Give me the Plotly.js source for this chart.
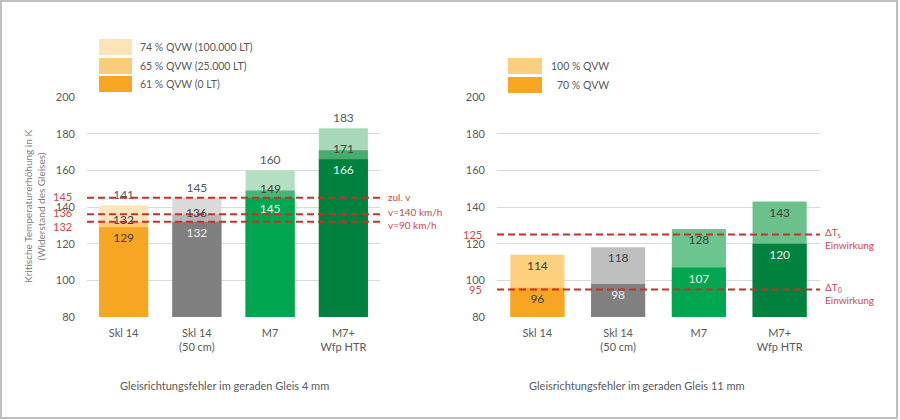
<!DOCTYPE html>
<html>
<head>
<meta charset="utf-8">
<script src="https://cdn.plot.ly/plotly-3.0.1.min.js"></script>
<style>
  html, body { margin: 0; padding: 0; background: #fff; }
  #chart { width: 900px; height: 420px; }
</style>
</head>
<body>
<div id="chart"></div>
<script>
const categories = ['Skl 14', 'Skl 14<br>(50 cm)', 'M7', 'M7+<br>Wfp HTR'];

// links: Gleisrichtungsfehler 4 mm
const qvw61 = [129, 132, 145, 166];
const qvw65 = [132, 136, 149, 171];
const qvw74 = [141, 145, 160, 183];
const legendLeft = ['74 % QVW (100.000 LT)', '65 % QVW (25.000 LT)', '61 % QVW (0 LT)'];
const limitsLeft = [145, 136, 132];
const limitNamesLeft = ['zul. v', 'v=140 km/h', 'v=90 km/h'];

// rechts: Gleisrichtungsfehler 11 mm
const qvw70 = [96, 98, 107, 120];
const qvw100 = [114, 118, 128, 143];
const legendRight = ['100 % QVW', '70 % QVW'];
const limitsRight = [125, 95];
const limitNamesRight = ['ΔT<sub>s</sub><br>Einwirkung', 'ΔT<sub>0</sub><br>Einwirkung'];

const yTicks = [80, 100, 120, 140, 160, 180, 200];
const subTitles = ['Gleisrichtungsfehler im geraden Gleis 4 mm', 'Gleisrichtungsfehler im geraden Gleis 11 mm'];
const yTitle = 'Kritische Temperaturerhöhung in K<br>(Widerstand des Gleises)';

const FONT = 'Lato, "Liberation Sans", sans-serif';
const GREY = '#595959';
const RED = '#C8302C';
const W = 900, H = 420;
function px(x) { return x / W; }
function py(y) { return 1 - y / H; }

function bars(vals, xa, ya, colors, pos, textColors) {
    return {
        type: 'bar', x: categories, y: vals, xaxis: xa, yaxis: ya,
        marker: { color: colors, line: { width: 0 } },
        text: vals.map(String),
        textposition: pos,
        insidetextanchor: 'end',
        textfont: { family: FONT, size: 12, color: textColors },
        hoverinfo: 'skip'
    };
}

const traces = [
    bars(qvw74, 'x', 'y', ['#FEE5BE', '#DADADA', '#B4DFC2', '#A9D8B8'], 'outside', GREY),
    bars(qvw65, 'x', 'y', ['#FBCB7A', '#B8B8B8', '#47B674', '#47AD6E'], 'none', GREY),
    bars(qvw61, 'x', 'y', ['#F6A623', '#7F7F7F', '#00A650', '#00823F'], 'inside',
        ['#404040', '#EDEDED', '#E8F5EC', '#E8F5EC']),
    bars(qvw100, 'x2', 'y2', ['#FDD07E', '#BFBFBF', '#6CC48F', '#6CC08C'], 'inside', '#404040'),
    bars(qvw70, 'x2', 'y2', ['#F6A623', '#808080', '#00A650', '#00823F'], 'inside',
        ['#404040', '#EDEDED', '#EDEDED', '#EDEDED'])
];

const shapes = [];
const annotations = [];

function note(o) {
    annotations.push(Object.assign({ showarrow: false, xanchor: 'center', yanchor: 'middle' }, o));
}

// Grenzlinien
limitsLeft.forEach(function (v, i) {
    shapes.push({ type: 'line', xref: 'x domain', yref: 'y', x0: 0, x1: 1.01, y0: v, y1: v,
        line: { color: RED, width: 2, dash: '7px,4px' } });
    note({ xref: 'paper', yref: 'y', x: px(74), y: v, xanchor: 'right',
        text: String(v), yshift: [1, 2, -5][i],
        font: { size: 11, color: '#D0474A' } });
    note({ xref: 'x domain', yref: 'y', x: 1.02, y: v, xanchor: 'left',
        text: limitNamesLeft[i], yshift: [1, 2, -3][i],
        font: { size: 10, color: '#D0474A' } });
});
limitsRight.forEach(function (v, i) {
    shapes.push({ type: 'line', xref: 'x2 domain', yref: 'y2', x0: 0, x1: 1, y0: v, y1: v,
        line: { color: RED, width: 2, dash: '7px,4px' } });
    note({ xref: 'paper', yref: 'y2', x: px(484), y: v, xanchor: 'right',
        text: String(v), font: { size: 11, color: '#D0474A' } });
    note({ xref: 'x2 domain', yref: 'y2', x: 1.01, y: v, xanchor: 'left', align: 'left',
        text: limitNamesRight[i], yshift: -4,
        font: { size: 10, color: '#D0474A' } });
});

// mittlere Werte links
qvw65.forEach(function (v, i) {
    note({ xref: 'x', yref: 'y', x: categories[i], y: v, text: String(v),
        yshift: 2, font: { size: 12, color: '#404040' } });
});

// Legenden
const legLeftColors = ['#FEE3B8', '#FDCB7C', '#F6A623'];
[47, 66, 84].forEach(function (cy, i) {
    shapes.push({ type: 'rect', xref: 'paper', yref: 'paper', x0: px(99), x1: px(132),
        y0: py(cy + 8), y1: py(cy - 8), fillcolor: legLeftColors[i], line: { width: 0 } });
    note({ xref: 'paper', yref: 'paper', x: px(138), y: py(cy), xanchor: 'left',
        text: legendLeft[i], font: { size: 10.5, color: GREY } });
});
const legRightColors = ['#FDCD80', '#F6A623'];
[66, 85].forEach(function (cy, i) {
    shapes.push({ type: 'rect', xref: 'paper', yref: 'paper', x0: px(508), x1: px(542),
        y0: py(cy + 8), y1: py(cy - 8), fillcolor: legRightColors[i], line: { width: 0 } });
    note({ xref: 'paper', yref: 'paper', x: px(611), y: py(cy), xanchor: 'right',
        text: legendRight[i], font: { size: 10.5, color: GREY } });
});

// Titel
note({ xref: 'paper', yref: 'paper', x: px(34), y: py(207), textangle: -90,
    text: yTitle, font: { size: 10, color: '#7F7F7F' } });
note({ xref: 'paper', yref: 'paper', x: px(224), y: py(385),
    text: subTitles[0], font: { size: 11, color: GREY } });
note({ xref: 'paper', yref: 'paper', x: px(637), y: py(385),
    text: subTitles[1], font: { size: 11, color: GREY } });

// Rahmen
shapes.push({ type: 'rect', xref: 'paper', yref: 'paper', x0: px(1), x1: px(897),
    y0: py(418), y1: py(1), line: { color: '#BFBFBF', width: 2 } });

const xBase = { type: 'category', showgrid: false, zeroline: false, showline: false, ticks: '',
    ticklabelstandoff: 8, tickfont: { size: 11, color: GREY }, fixedrange: true };
const yBase = { range: [80, 200], tickvals: yTicks, showgrid: true, gridcolor: '#D9D9D9', gridwidth: 1,
    zeroline: false, showline: false, ticks: '', tickfont: { size: 11, color: GREY }, fixedrange: true };

const layout = {
    width: W, height: H,
    margin: { l: 0, r: 0, t: 0, b: 0 },
    paper_bgcolor: '#FFFFFF', plot_bgcolor: '#FFFFFF',
    font: { family: FONT, color: GREY },
    barmode: 'overlay', bargap: 0.33,
    showlegend: false,
    xaxis: Object.assign({}, xBase, { domain: [px(87), px(380)], anchor: 'y' }),
    yaxis: Object.assign({}, yBase, { domain: [py(317), py(97)], anchor: 'x', ticklabelstandoff: 11 }),
    xaxis2: Object.assign({}, xBase, { domain: [px(497), px(820)], anchor: 'y2' }),
    yaxis2: Object.assign({}, yBase, { domain: [py(317), py(97)], anchor: 'x2', ticklabelstandoff: 11 }),
    shapes: shapes,
    annotations: annotations
};

Plotly.newPlot('chart', traces, layout, { displayModeBar: false, staticPlot: true });
</script>
</body>
</html>
